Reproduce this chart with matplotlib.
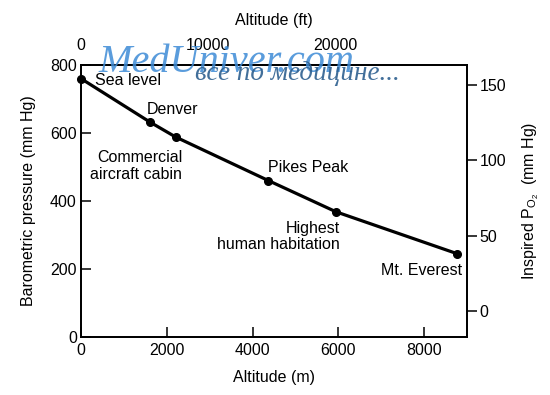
import numpy as np
from matplotlib import pyplot as plt

plt.rcParams['font.family'] = ['Liberation Sans', 'DejaVu Sans']
plt.rcParams['mathtext.fontset'] = 'custom'
plt.rcParams['mathtext.rm'] = 'Liberation Sans'
plt.rcParams['mathtext.it'] = 'Liberation Sans:italic'

# altitude (m) vs barometric pressure (mm Hg)
alt_m = [0, 1610, 2210, 4370, 5950, 8770]
pb = [760, 632, 588, 460, 368, 245]
places = ['Sea level', 'Denver', 'Commercial\naircraft cabin', 'Pikes Peak',
          'Highest\nhuman habitation', 'Mt. Everest']

x_ticks = [0, 2000, 4000, 6000, 8000]
y_ticks = [0, 200, 400, 600, 800]
ft_ticks = [0, 10000, 20000]
po2_ticks = [0, 50, 100, 150]

fs = 11.5
fig = plt.figure(figsize=(5.5, 3.95), dpi=100)
ax = fig.add_axes([81/550, 1-337/395, 386/550, 272/395])

ax.plot(alt_m, pb, color='black', lw=2.3, marker='o', ms=5.5, clip_on=False, zorder=5)

ax.set_xlim(0, 9000)
ax.set_ylim(0, 800)
ax.set_xticks(x_ticks)
ax.set_yticks(y_ticks)
ax.tick_params(direction='in', length=7, width=1.1, labelsize=fs, pad=4)
ax.tick_params(axis='y', pad=3)
for s in ax.spines.values():
    s.set_linewidth(1.1)
ax.set_xlabel('Altitude (m)', fontsize=fs, labelpad=9)
ax.set_ylabel('Barometric pressure (mm Hg)', fontsize=fs, labelpad=10)

# labels for the points
ax.text(326, 753, places[0], fontsize=fs, ha='left', va='center')
ax.text(1539, 668, places[1], fontsize=fs, ha='left', va='center')
ax.text(2355, 503, places[2], fontsize=fs, ha='right', va='center', multialignment='right', linespacing=1.1)
ax.text(4360, 500, places[3], fontsize=fs, ha='left', va='center')
ax.text(6039, 296, places[4], fontsize=fs, ha='right', va='center', multialignment='right', linespacing=1.1)
ax.text(8883, 197, places[5], fontsize=fs, ha='right', va='center')

# top axis in feet
axt = ax.twiny()
axt.set_xlim(0, 30400)
axt.set_xticks(ft_ticks)
axt.tick_params(length=0, labelsize=fs, pad=9)
axt.set_xlabel('Altitude (ft)', fontsize=fs, labelpad=9)

# right axis inspired PO2
axr = ax.twinx()
axr.set_ylim(-17.3, 163.2)
axr.set_yticks(po2_ticks)
axr.tick_params(direction='out', length=7, width=1.1, labelsize=fs, pad=2)
axr.set_ylabel(r'Inspired P$_{\mathrm{O_2}}$  (mm Hg)', fontsize=fs, labelpad=10)
for a in (axt, axr):
    for s in a.spines.values():
        s.set_linewidth(1.1)

# watermark
fig.text(98/550, 1-72/395, 'MedUniver.com', family='Liberation Serif', style='italic',
         fontsize=29, color='#3d8bd6', alpha=0.85, ha='left', va='baseline')
fig.text(195/550, 1-80/395, 'все по медицине...', family='Liberation Serif', style='italic',
         fontsize=19.5, color='#2d5f8f', alpha=0.9, ha='left', va='baseline')

fig.savefig('out.png', dpi=100)
